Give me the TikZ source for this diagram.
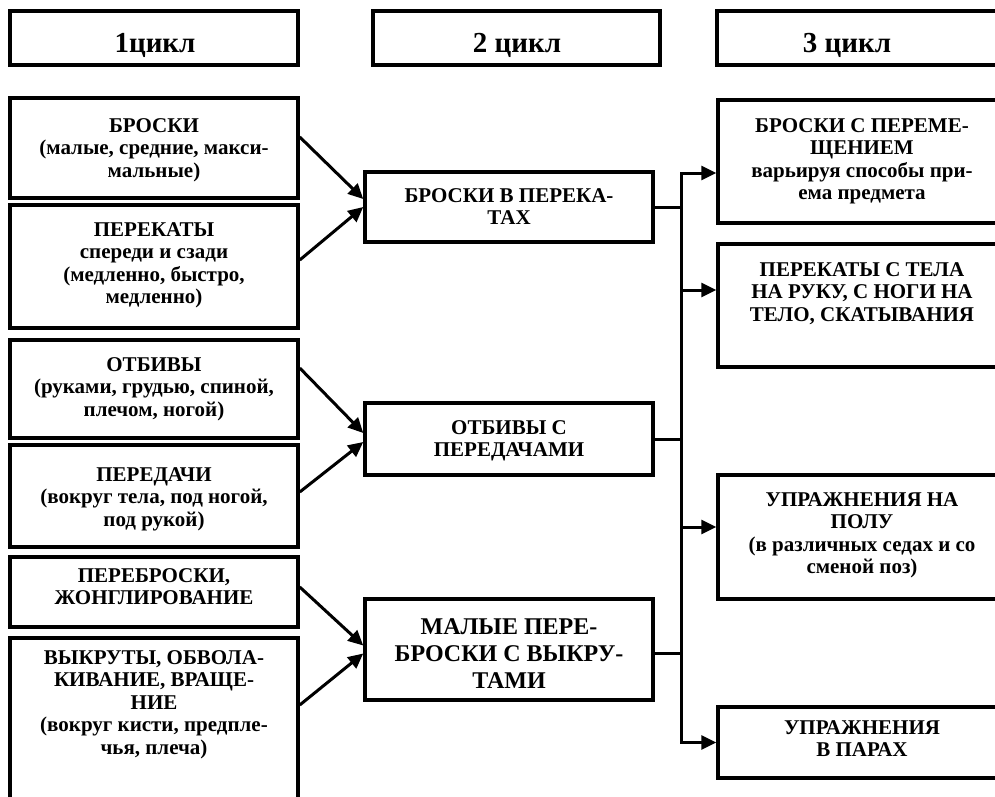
\documentclass[tikz,border=0pt]{standalone}
\usepackage{fontspec}
\setmainfont{Liberation Serif}
\usetikzlibrary{arrows.meta,calc}
\begin{document}
\begin{tikzpicture}[x=1pt,y=-1pt,
  box/.style={draw, line width=3.5pt, inner sep=0pt},
  head/.style={anchor=base, inner sep=0pt, font=\fontsize{29}{32}\selectfont\bfseries},
  lbl/.style={anchor=north, inner sep=0pt, align=center, font=\fontsize{21}{22.5}\selectfont\bfseries},
  biglbl/.style={lbl, font=\fontsize{24}{27}\selectfont\bfseries},
  conn/.style={line width=3pt},
  arr/.style={line width=3pt, -{Triangle[length=15pt,width=14pt]}}]
\useasboundingbox (0,0) rectangle (995,796);
\clip (0,0) rectangle (995,796);

% column headers
\node[box, minimum width=288pt, minimum height=54pt] (h1) at (154,38) {};
\node[box, minimum width=287pt, minimum height=54pt] (h2) at (516.5,38) {};
\node[box, minimum width=293pt, minimum height=54pt] (h3) at (863.5,38) {};
\node[head] (th1) at (155,52) {1цикл};
\node[head] (th2) at (517,52) {2 цикл};
\node[head] (th3) at (847,52) {3 цикл};

% first cycle
\node[box, minimum width=288pt, minimum height=100pt] (a1) at (154,148) {};
\node[box, minimum width=288pt, minimum height=123pt] (a2) at (154,266.5) {};
\node[box, minimum width=288pt, minimum height=98pt]  (a3) at (154,389) {};
\node[box, minimum width=288pt, minimum height=102pt] (a4) at (154,496) {};
\node[box, minimum width=288pt, minimum height=70pt]  (a5) at (154,592) {};
\node[box, minimum width=288pt, minimum height=192pt] (a6) at (154,734) {};
\node[lbl] (ta1) at (154,118) {БРОСКИ\\(малые, средние, макси-\\мальные)};
\node[lbl] (ta2) at (154,222) {ПЕРЕКАТЫ\\спереди и сзади\\(медленно, быстро,\\медленно)};
\node[lbl] (ta3) at (154,357) {ОТБИВЫ\\(руками, грудью, спиной,\\плечом, ногой)};
\node[lbl] (ta4) at (154,467) {ПЕРЕДАЧИ\\(вокруг тела, под ногой,\\под рукой)};
\node[lbl] (ta5) at (154,568) {ПЕРЕБРОСКИ,\\ЖОНГЛИРОВАНИЕ};
\node[lbl] (ta6) at (154,650) {ВЫКРУТЫ, ОБВОЛА-\\КИВАНИЕ, ВРАЩЕ-\\НИЕ\\(вокруг кисти, предпле-\\чья, плеча)};

% second cycle
\node[box, minimum width=288pt, minimum height=70pt]  (m1) at (509,207) {};
\node[box, minimum width=288pt, minimum height=72pt]  (m2) at (509,439) {};
\node[box, minimum width=288pt, minimum height=101pt] (m3) at (509,649.5) {};
\node[lbl] (tm1) at (509,188) {БРОСКИ В ПЕРЕКА-\\ТАХ};
\node[lbl] (tm2) at (509,420) {ОТБИВЫ С\\ПЕРЕДАЧАМИ};
\node[biglbl] (tm3) at (509,618) {МАЛЫЕ ПЕРЕ-\\БРОСКИ С ВЫКРУ-\\ТАМИ};

% third cycle
\node[box, minimum width=288pt, minimum height=123pt] (r1) at (862,161.5) {};
\node[box, minimum width=288pt, minimum height=123pt] (r2) at (862,305.5) {};
\node[box, minimum width=288pt, minimum height=124pt] (r3) at (862,537) {};
\node[box, minimum width=288pt, minimum height=71pt]  (r4) at (862,742.5) {};
\node[lbl] (tr1) at (862,118) {БРОСКИ С ПЕРЕМЕ-\\ЩЕНИЕМ\\варьируя способы при-\\ема предмета};
\node[lbl] (tr2) at (862,262) {ПЕРЕКАТЫ С ТЕЛА\\НА РУКУ, С НОГИ НА\\ТЕЛО, СКАТЫВАНИЯ};
\node[lbl] (tr3) at (862,492) {УПРАЖНЕНИЯ НА\\ПОЛУ\\(в различных седах и со\\сменой поз)};
\node[lbl] (tr4) at (862,720) {УПРАЖНЕНИЯ\\В ПАРАХ};

% first cycle -> second cycle
\draw[arr] ($(a1.east)+(0,-11)$) -- ($(m1.west)+(0,-8)$);
\draw[arr] ($(a2.east)+(0,-6.5)$) -- ($(m1.west)+(0,0)$);
\draw[arr] ($(a3.east)+(0,-21)$) -- ($(m2.west)+(0,-6)$);
\draw[arr] ($(a4.east)+(0,-4)$) -- ($(m2.west)+(0,3)$);
\draw[arr] ($(a5.east)+(0,-5)$) -- ($(m3.west)+(0,-4)$);
\draw[arr] ($(a6.east)+(0,-29)$) -- ($(m3.west)+(0,4)$);

% second cycle -> common bus -> third cycle
\coordinate (bus) at (681,0);
\coordinate (e1) at ($(r1.west)+(0,11.5)$);
\coordinate (e2) at ($(r2.west)+(0,-15.5)$);
\coordinate (e3) at ($(r3.west)+(0,-10)$);
\coordinate (e4) at ($(r4.west)+(0,0)$);
\coordinate (f3) at ($(m3.east)+(0,3.5)$);
\draw[conn] (m1.east) -- (m1.east -| bus);
\draw[conn] (m2.east) -- (m2.east -| bus);
\draw[conn] (f3) -- (f3 -| bus);
\draw[arr] (e4 -| bus) -- (e1 -| bus) -- (e1);
\draw[arr] (e1 -| bus) -- (e4 -| bus) -- (e4);
\draw[arr] (e2 -| bus) -- (e2);
\draw[arr] (e3 -| bus) -- (e3);
\end{tikzpicture}
\end{document}
